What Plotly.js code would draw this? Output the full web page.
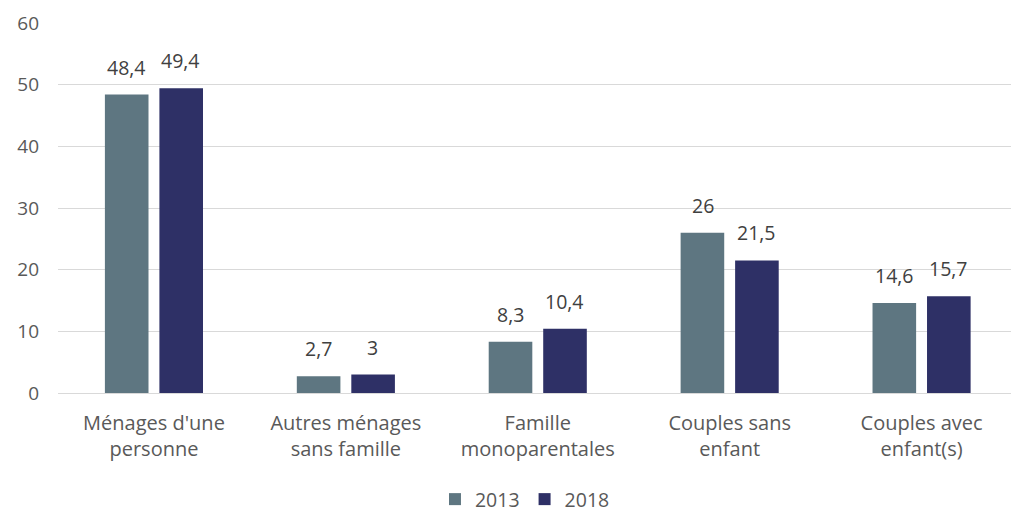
<!DOCTYPE html>
<html><head><meta charset="utf-8">
<script src="https://cdn.plot.ly/plotly-3.0.1.min.js"></script>
<style>html,body{margin:0;padding:0;background:#fff}</style>
</head><body>
<div id="chart" style="width:1011px;height:513px"></div>
<script>
const categories = ["Ménages d'une<br>personne", "Autres ménages<br>sans famille", "Famille<br>monoparentales", "Couples sans<br>enfant", "Couples avec<br>enfant(s)"];
const values2013 = [48.4, 2.7, 8.3, 26, 14.6];
const values2018 = [49.4, 3, 10.4, 21.5, 15.7];
const fmt = v => String(v).replace('.', ',');
const font = "'Open Sans', sans-serif";
const series = [
  {name:'2013', values:values2013, color:'#5E7681', shift:-27},
  {name:'2018', values:values2018, color:'#2E3066', shift:27}
];
const data = series.map(s => ({
  type:'bar', name:s.name, x:categories, y:s.values, marker:{color:s.color},
  hoverinfo:'none'
}));
const annotations = [];
series.forEach(s => s.values.forEach((v, i) => annotations.push({
  x:categories[i], y:v, xref:'x', yref:'y', text:fmt(v), showarrow:false,
  xshift:s.shift, yshift:12, yanchor:'bottom', xanchor:'center',
  font:{size:19.5, color:'#404040', family:font}
})));
const layout = {
  width:1011, height:513,
  margin:{l:58, r:0, t:23, b:120, autoexpand:false},
  font:{family:font, size:19, color:'#595959'},
  separators:', ',
  barmode:'group', bargap:0.432, bargroupgap:0.2,
  showlegend:true,
  legend:{orientation:'h', x:0.49, xanchor:'center', y:-0.235, yanchor:'top',
          font:{size:19.5,color:'#595959'}, itemwidth:30, tracegroupgap:0},
  xaxis:{range:[-0.5, 4.466], tickfont:{size:20,color:'#595959'}, showline:true, linecolor:'#d9d9d9', linewidth:1,
         ticks:'', automargin:false, ticklabelstandoff:12},
  yaxis:{range:[0,60], dtick:10, gridcolor:'#d9d9d9', gridwidth:1, zeroline:false, showline:false,
         tickfont:{size:19,color:'#595959'}, ticks:'', automargin:false, ticklabelstandoff:18},
  annotations:annotations,
  plot_bgcolor:'#fff', paper_bgcolor:'#fff'
};
Plotly.newPlot('chart', data, layout, {displayModeBar:false, staticPlot:true});
</script>
</body></html>
